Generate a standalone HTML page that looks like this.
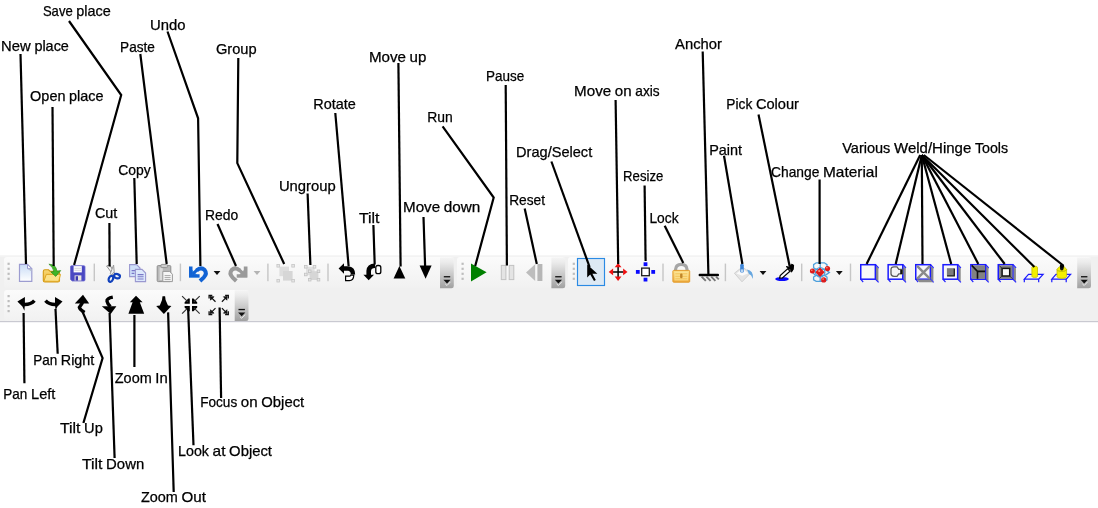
<!DOCTYPE html>
<html lang="en">
<head>
<meta charset="utf-8">
<title>Toolbar reference</title>
<style>
html,body{margin:0;padding:0;background:#fff;}
body{width:1098px;height:508px;overflow:hidden;position:relative;font-family:"Liberation Sans",sans-serif;}
svg{position:absolute;left:0;top:0;display:block;}
text{font-family:"Liberation Sans",sans-serif;font-size:14.1px;fill:#000;stroke:#000;stroke-width:0.25px;}
.ln{fill:none;stroke:#000;stroke-width:2.2;stroke-linejoin:miter;stroke-linecap:butt;}
</style>
</head>
<body>
<svg width="1098" height="508" viewBox="0 0 1098 508">
<defs>
<linearGradient id="ovf" x1="0" y1="0" x2="0" y2="1"><stop offset="0" stop-color="#f4f4f4"/><stop offset="0.150" stop-color="#ececec"/><stop offset="0.500" stop-color="#cdcdcd"/><stop offset="1" stop-color="#a0a0a0"/></linearGradient>
<linearGradient id="strip" x1="0" y1="0" x2="0" y2="1"><stop offset="0" stop-color="#fbfbfb"/><stop offset="1" stop-color="#f1f1f1"/></linearGradient>
<linearGradient id="doc" x1="0" y1="0" x2="0" y2="1"><stop offset="0" stop-color="#c9dcf7"/><stop offset="1" stop-color="#ffffff"/></linearGradient>
<linearGradient id="fold" x1="0" y1="0" x2="0" y2="1"><stop offset="0" stop-color="#f7d774"/><stop offset="1" stop-color="#f0b93a"/></linearGradient>
<linearGradient id="lockg" x1="0" y1="0" x2="0" y2="1"><stop offset="0" stop-color="#fbe08a"/><stop offset="1" stop-color="#eda93a"/></linearGradient>
<g id="grip" fill="#bdbdbd"><rect x="0" y="0" width="2.2" height="2.2"/><rect x="0" y="5" width="2.2" height="2.2"/><rect x="0" y="10" width="2.2" height="2.2"/><rect x="0" y="15" width="2.2" height="2.2"/></g>
<g id="ovfbtn"><path d="M0 0H13.8V28.5Q13.8 30.8 11.5 30.8H0Z" fill="url(#ovf)"/><rect x="3.8" y="18.6" width="6.4" height="1.3" fill="#111"/><path d="M3.4 22.2H10.6L7 26Z" fill="#111"/><path d="M5.200 26.400L7 28L10.400 24.400" fill="none" stroke="#fff" stroke-width="0.900" opacity="0.850"/></g>
</defs>

<rect x="0" y="255" width="1098" height="66.5" fill="#f0f0f0"/>
<rect x="0" y="255" width="1098" height="1.5" fill="#f6f6f6"/>
<rect x="0" y="321" width="1098" height="1.2" fill="#c9c9d1"/>
<rect x="4" y="257" width="449.8" height="31.19999999999999" rx="3" fill="url(#strip)"/>
<rect x="457" y="257" width="107.60000000000002" height="31.19999999999999" rx="3" fill="url(#strip)"/>
<rect x="568" y="257" width="523" height="31.19999999999999" rx="3" fill="url(#strip)"/>
<rect x="4" y="290" width="244.4" height="31" rx="3" fill="url(#strip)"/>
<use href="#ovfbtn" x="440" y="257.5"/>
<use href="#ovfbtn" x="551.4" y="257.5"/>
<use href="#ovfbtn" x="1077.2" y="257.5"/>
<use href="#ovfbtn" x="234.7" y="290.3"/>
<use href="#grip" x="7.5" y="262.7"/>
<use href="#grip" x="461.5" y="262.7"/>
<use href="#grip" x="572.7" y="262.7"/>
<use href="#grip" x="7.5" y="295"/>
<rect x="93.6" y="263.6" width="1.4" height="17.6" fill="#c6c6c6"/>
<rect x="179.7" y="263.6" width="1.4" height="17.6" fill="#c6c6c6"/>
<rect x="267.2" y="263.6" width="1.4" height="17.6" fill="#c6c6c6"/>
<rect x="327.3" y="263.6" width="1.4" height="17.6" fill="#c6c6c6"/>
<rect x="662.3" y="263.6" width="1.4" height="17.6" fill="#c6c6c6"/>
<rect x="724.7" y="263.6" width="1.4" height="17.6" fill="#c6c6c6"/>
<rect x="801.0" y="263.6" width="1.4" height="17.6" fill="#c6c6c6"/>
<rect x="849.8" y="263.6" width="1.4" height="17.6" fill="#c6c6c6"/>
<g id="icons-row1">
<!-- new -->
<g transform="translate(18.9 263.8)">
<path d="M0.6 0.6H8.6L12.9 4.9V17.6H0.6Z" fill="url(#doc)" stroke="#9c9cd0" stroke-width="1.2"/>
<path d="M8.6 0.6V4.9H12.9Z" fill="#f4f6fb" stroke="#9c9cd0" stroke-width="1"/>
<path d="M8.8 5.2H12.6V7.6Z" fill="#b5bfd0"/>
</g>
<!-- open -->
<g transform="translate(42.3 263.8)">
<path d="M1 7.6Q1 6 2.6 6H6.2L8 7.6H15.6Q17.2 7.6 17.2 9.2V16.6Q17.2 18.2 15.6 18.2H2.6Q1 18.2 1 16.6Z" fill="url(#fold)" stroke="#d39a16" stroke-width="1.1"/>
<path d="M1.6 17.4L4 10.6H18.2L16.4 17.6Z" fill="#fbe28a" stroke="#dca21c" stroke-width="0.9"/>
<path d="M6.6 0.4Q14 0.6 14.6 7.4L18.4 6.8L13.4 12.6L8.6 8.2L11.6 7.8Q11 3.4 6.6 0.4Z" fill="#3fb428" stroke="#2a8a1a" stroke-width="0.7"/>
</g>
<!-- save -->
<g transform="translate(70 265.2)">
<path d="M0.5 1.6Q0.5 0.5 1.6 0.5H13.8Q15 0.5 15 1.6V14.6Q15 15.8 13.8 15.8H2.2L0.5 14.2Z" fill="#4a48c2" stroke="#6e6cd0" stroke-width="0.8"/>
<rect x="3.6" y="0.9" width="8.2" height="6.3" fill="#fdfdfd"/>
<rect x="4.4" y="2.6" width="6.6" height="1" fill="#d6d6dc"/>
<rect x="4.4" y="4.6" width="6.6" height="1" fill="#d6d6dc"/>
<rect x="4.6" y="10.2" width="6.8" height="5.2" fill="#e9e6e0"/>
<rect x="5.6" y="11" width="2.4" height="4.4" fill="#3a38b0"/>
</g>
<!-- cut -->
<g transform="translate(106 264)">
<path d="M0.600 2L3.800 0.800L9.200 10.400L7.600 11.400Z" fill="#f4f4f4" stroke="#8e8e8e" stroke-width="1"/>
<path d="M7.600 1L8.200 7.800L5.600 11L4.200 9.800Z" fill="#ececec" stroke="#9a9a9a" stroke-width="1"/>
<ellipse cx="4.900" cy="14.800" rx="2.100" ry="3.100" transform="rotate(24 4.900 14.800)" fill="none" stroke="#1040bc" stroke-width="2.200"/>
<ellipse cx="11" cy="12.200" rx="3" ry="2.100" transform="rotate(16 11 12.200)" fill="none" stroke="#1040bc" stroke-width="2.200"/>
</g>
<!-- copy -->
<g transform="translate(129 264)">
<path d="M0.6 0.6H7.6L11 4V12.6H0.6Z" fill="#cfe0fa" stroke="#9a98d0" stroke-width="1.1"/>
<path d="M2.6 6.6H6.4M2.6 9.4H5.4" stroke="#7a78c8" stroke-width="1.1"/>
<path d="M6.4 5.4H13L16.6 9V17.6H6.4Z" fill="#dce8fb" stroke="#9a98d0" stroke-width="1.1"/>
<path d="M8.6 10.6H14.6M8.6 12.8H14.6M8.6 15H14.6" stroke="#7a78c8" stroke-width="1.1"/>
</g>
<!-- paste -->
<g transform="translate(156.2 264)">
<path d="M1 2.6Q1 1.6 2 1.6H13.6Q14.6 1.6 14.6 2.6V16.6Q14.6 17.6 13.6 17.6H2Q1 17.6 1 16.6Z" fill="#b9b9b9" stroke="#8e8e8e" stroke-width="1"/>
<path d="M3.4 3.4H6.6V16H3.4Z" fill="#dadada"/>
<rect x="4.8" y="0.4" width="6.4" height="3.2" rx="0.8" fill="#cfcfcf" stroke="#8e8e8e" stroke-width="0.9"/>
<path d="M6.6 7.4H13.4L16.2 10.2V17.6H6.6Z" fill="#f6f6f6" stroke="#9a9a9a" stroke-width="1"/>
<path d="M8.4 11.6H14.4M8.4 13.6H14.4M8.4 15.6H14.4" stroke="#a8a8a8" stroke-width="1"/>
</g>
<!-- undo -->
<defs><g id="undoshape">
<path d="M189 266.4V277.6H199.6Z" fill="#3d9cf2"/>
<path d="M189 266.4H192.5V274.3H199.6V277.6H189Z"/>
<path d="M192.6 274.2L197.6 269.4" fill="none" stroke-width="3" stroke="currentColor"/>
<path d="M196.6 270.4Q201 266.4 204.6 270Q207.6 273.6 203.6 277.6L200 281" fill="none" stroke-width="4" stroke-linecap="butt" stroke="currentColor"/>
</g></defs>
<use href="#undoshape" fill="#1263d4" color="#1263d4"/>
<path d="M213.6 271H220.4L217 275Z" fill="#111"/>
<!-- redo -->
<g transform="translate(436.3 0) scale(-1 1)" fill="#9a9a9a" color="#9a9a9a">
<path d="M189 266.4V277.6H199.6Z" fill="#a6a6a6"/>
<path d="M189 266.4H192.5V274.3H199.6V277.6H189Z"/>
<path d="M191.6 275.2L197.4 269.6" fill="none" stroke-width="3.4" stroke="#9a9a9a"/>
<path d="M196.6 270.4Q201 266.4 204.6 270Q207.6 273.6 203.6 277.6L200 281" fill="none" stroke-width="4" stroke="#9a9a9a"/>
</g>
<path d="M253.6 271H260.4L257 275Z" fill="#b4b4b4"/>
<!-- group -->
<g transform="translate(276.4 264)">
<rect x="3" y="2.6" width="9.6" height="9.6" fill="#dedede"/>
<rect x="6.6" y="7" width="9.6" height="9.6" fill="#d6d6d6"/>
<g fill="#e6e6e6" stroke="#c6c6c6" stroke-width="0.8"><rect x="0.5" y="0.5" width="2.6" height="2.6"/><rect x="15.4" y="0.5" width="2.6" height="2.6"/><rect x="0.5" y="15.4" width="2.6" height="2.6"/><rect x="15.4" y="15.4" width="2.6" height="2.6"/></g>
</g>
<!-- ungroup -->
<g transform="translate(304 265)">
<rect x="2" y="1.8" width="8.6" height="8.4" fill="#e0e0e0"/>
<rect x="5.6" y="6.2" width="8.8" height="8.8" fill="#d6d6d6"/>
<g fill="#e6e6e6" stroke="#c2c2c2" stroke-width="0.8"><rect x="0.5" y="0.5" width="2.6" height="2.6"/><rect x="9.2" y="0.5" width="2.6" height="2.6"/><rect x="0.5" y="8.2" width="2.6" height="2.6"/><rect x="4.4" y="5" width="2.6" height="2.6"/><rect x="13.2" y="5" width="2.6" height="2.6"/><rect x="4.4" y="13.4" width="2.6" height="2.6"/><rect x="13.2" y="13.4" width="2.6" height="2.6"/></g>
</g>
<!-- rotate -->
<path d="M338.6 268.5L344 263.2V273.8Z" fill="#000"/>
<path d="M343.6 268.5H348.6Q353 269.2 353 274.6" fill="none" stroke="#000" stroke-width="4.4"/>
<path d="M353.8 275.2Q353.6 280.6 349.4 280.6H345.6V276.2H349.8Q350.6 276.2 350.8 275.2Z" fill="#fff" stroke="#000" stroke-width="1.2"/>
<!-- tilt -->
<path d="M368.7 280.2L363.4 274.8H374Z" fill="#000"/>
<path d="M368.7 275.4V271Q369 265.8 375 265.7" fill="none" stroke="#000" stroke-width="4.6"/>
<rect x="375.8" y="265.5" width="5" height="8.2" rx="2" fill="#fff" stroke="#000" stroke-width="1.3"/>
<!-- move up / down -->
<path d="M399.4 266L405.3 278.4H393.6Z" fill="#000"/>
<path d="M419.6 265.4H431.6L425.6 278.8Z" fill="#000"/>
<!-- run pause reset -->
<path d="M471 263.4L486.6 272.2L471 281.4Z" fill="#008000"/>
<g fill="#e4e4e4" stroke="#c2c2c2" stroke-width="1"><rect x="501.3" y="265.4" width="4.6" height="14.2"/><rect x="509.2" y="265.4" width="4.6" height="14.2"/></g>
<path d="M526 272.4L535.2 264.2V281Z" fill="#bdbdbd"/>
<rect x="537.4" y="264" width="5" height="17" fill="#b6b6b6"/>
<!-- select -->
<rect x="577.500" y="258.500" width="27" height="27" fill="#dde9f4" stroke="#2a8ae4" stroke-width="1.150"/>
<path d="M587.2 264.4V277.6L590.2 274.6L594 281L595.8 280L592.4 273.8H597.4Z" fill="#000"/>
<!-- move on axis -->
<g transform="translate(618.1 271.9)">
<rect x="-2.600" y="-2.600" width="5.200" height="5.200" fill="#fafafa"/><path d="M-5.400 0H5.400M0 -5.400V5.400" stroke="#000" stroke-width="1.500"/>
<g fill="#f01010"><path d="M0 -9L3.4 -4.6H-3.4Z"/><path d="M0 9L3.4 4.6H-3.4Z"/><path d="M-9.4 0L-5 -3.4V3.4Z"/><path d="M9.4 0L5 -3.4V3.4Z"/></g>
</g>
<!-- resize -->
<g transform="translate(645.5 271.9)">
<rect x="-3.8" y="-3.8" width="7.6" height="7.6" fill="#fff" stroke="#1a1a1a" stroke-width="1.3"/>
<g fill="#0a0aff"><rect x="-1.9" y="-9.6" width="3.8" height="3.8"/><rect x="-1.9" y="5.8" width="3.8" height="3.8"/><rect x="-9.6" y="-1.9" width="3.8" height="3.8"/><rect x="5.8" y="-1.9" width="3.8" height="3.8"/></g>
</g>
<!-- lock -->
<g transform="translate(672.3 262.4)">
<path d="M3.300 9.400V7Q3.500 1.900 9 1.900Q14.500 1.900 14.700 7V9.400" fill="none" stroke="#a6a6a6" stroke-width="3.200"/>
<rect x="0.600" y="8" width="16.800" height="11.800" rx="0.800" fill="url(#lockg)" stroke="#e39c2c" stroke-width="1"/>
<rect x="2.200" y="9.600" width="13.600" height="8.400" fill="#fce598" opacity="0.750"/>
<path d="M3 11.400H15M3 13.900H15M3 16.400H15" stroke="#f0bc4c" stroke-width="0.900" opacity="0.900"/>
<rect x="7.800" y="11.200" width="2.400" height="4.600" rx="1" fill="#c08628"/>
</g>
<!-- anchor -->
<rect x="698.600" y="273.700" width="20.400" height="2.500" rx="1" fill="#000"/>
<path d="M701.600 276.600L705.800 280.800M706.400 276.600L710.600 280.800M711.200 276.600L715.400 280.800M716 276.600L718.800 279.400" stroke="#777" stroke-width="1.900"/>
<!-- paint -->
<g transform="translate(734 262.4)">
<path d="M0.4 10.8L8.4 4.6L16.6 10.6L8 19.4Z" fill="#e4e4e4" stroke="#c9c9c9" stroke-width="0.8"/>
<path d="M2.4 11L8.4 6.4L14.4 10.8L8.2 13.4Z" fill="#fafafa"/>
<path d="M13 7.2Q19.6 8 19 16.6Q17.4 12.4 14.8 11.4Z" fill="#67a7e0"/>
<rect x="6.2" y="1.6" width="3.6" height="8.4" rx="1.2" fill="#3f86d8"/>
<rect x="6.8" y="7" width="2.4" height="2.6" fill="#b8d6f4"/>
</g>
<path d="M759.6 271H766.4L763 275Z" fill="#111"/>
<!-- pick colour -->
<g transform="translate(775 263.6)">
<ellipse cx="7" cy="15.4" rx="6.8" ry="2" fill="#0a0aff"/>
<path d="M4.6 14.6L5.2 12L12.6 5.2L15 7.6L7.4 14.4Z" fill="#fff" stroke="#000" stroke-width="1.2"/>
<path d="M11.2 3L13.8 3.4L16.4 0.6L18.6 1.4L18.2 6L16.4 8.6L15.6 6.2L13 4.6Z" fill="#000" stroke="#000" stroke-width="1"/>
</g>
<!-- material -->
<g transform="translate(810 262)">
<g fill="none" stroke="#4ea0dc" stroke-width="1.300">
<path d="M3.600 2.600L6.200 0.800H14.400L17 2.600V5.800L14.400 7.400H6.200L3.600 5.800Z"/>
<path d="M3.600 15L6.200 13.400H14.400L17 15V17.800L14.400 19.400H6.200L3.600 17.800Z"/>
<path d="M10.200 0.800V19.400M5.400 7.400L2.600 10.400L5.400 13.400M15.200 7.400L19.400 10.400L15.200 13.400"/>
<circle cx="10.200" cy="10.300" r="4.700"/>
</g>
<g fill="#de1c1c"><path d="M10 6.400L13.700 10.200L10 14L6.300 10.200Z" stroke="#de1c1c" stroke-width="1.400" stroke-linejoin="round"/><circle cx="2.400" cy="9.100" r="2.500"/><circle cx="17.500" cy="6.600" r="2.600"/><circle cx="13.700" cy="17.900" r="2.600"/></g>
<g fill="#ff9a80"><circle cx="9.200" cy="9" r="1.100"/><circle cx="1.800" cy="8.300" r="0.800"/><circle cx="16.900" cy="5.800" r="0.800"/><circle cx="13.100" cy="17.100" r="0.800"/></g>
</g>
<path d="M835.9 271H842.7L839.3 275Z" fill="#111"/>
<!-- weld tools -->
<defs>
<g id="wbox">
<path d="M15.800 1.800L18.400 4.400V17.800L15.800 15.400Z" fill="#8a8a8a"/>
<path d="M0.800 15.600L3.200 18.200M15.600 0.800L18.600 4M15.600 15.600L18.600 18.600" stroke="#2424ff" stroke-width="1.200" fill="none"/>
<rect x="0.750" y="0.900" width="14.600" height="14.500" fill="#f7f7f7" stroke="#1a1aff" stroke-width="1.500"/>
</g>
<g id="wplane">
<path d="M0.800 14.200L5 9.400H19.600L15.200 14.200ZM0.800 14.200V17.200M15.200 14.200V17.200" fill="none" stroke="#1a1aff" stroke-width="1.200"/>
</g>
</defs>
<use href="#wbox" x="860" y="263.8"/>
<g transform="translate(887.4 263.8)"><use href="#wbox"/>
<path d="M3.6 5.8Q3.6 3 6.6 3H9.6L11.4 5.6H15.2V10H11.4L9.6 12.6H6.6Q3.6 12.6 3.6 9.8Z" fill="#f4f4f4" stroke="#5c5c5c" stroke-width="1.300"/><rect x="12.800" y="6" width="2.200" height="4.200" fill="#111"/></g>
<g transform="translate(915 263.8)"><use href="#wbox"/>
<path d="M1.6 15.8H15.4L18.2 18.4H4.4Z" fill="#8c8c8c"/>
<path d="M2 2L15 15M15 2L2 15" stroke="#8a8a8a" stroke-width="2.4"/></g>
<g transform="translate(942.3 263.8)"><use href="#wbox"/>
<rect x="4.600" y="4.400" width="7.400" height="7.400" fill="#7c7c7c"/><path d="M12 4.600V12H4.800" fill="none" stroke="#111" stroke-width="1.200"/></g>
<g transform="translate(970.1 263.8)"><use href="#wbox"/>
<rect x="1.6" y="1.6" width="13.4" height="13.4" fill="#828282"/><path d="M1.6 1.6L7.4 7.6V15M7.4 7.6H15" fill="none" stroke="#111" stroke-width="1.6"/></g>
<g transform="translate(997.5 263.8)"><use href="#wbox"/>
<rect x="1.6" y="1.6" width="13.4" height="13.4" fill="#828282"/><rect x="4.6" y="4.6" width="7.6" height="7.6" fill="#fafafa" stroke="#111" stroke-width="1.5"/><path d="M1.6 1.6L4.6 4.6M15 15L12.2 12.2M1.6 15L4.6 12.2" stroke="#333" stroke-width="1"/></g>
<g transform="translate(1023.5 265)"><use href="#wplane"/>
<path d="M8.4 2.4Q8.4 1.2 11.2 1.2Q14 1.2 14 2.4V11.4Q14 12.4 11.2 12.4Q8.4 12.4 8.4 11.4Z" fill="#f4f000" stroke="#c4c000" stroke-width="0.8"/></g>
<g transform="translate(1051 265)"><use href="#wplane"/>
<path d="M6 4.200L8.400 1.800H13.200L15.600 4.200V11.600Q15.600 13.400 10.800 13.400Q6 13.400 6 11.600Z" fill="#f4f000" stroke="#c4c000" stroke-width="0.800"/><path d="M6 4.6Q6 6.4 10.8 6.4Q15.6 6.4 15.6 4.6" fill="none" stroke="#b8b400" stroke-width="0.9"/><ellipse cx="10.8" cy="3.2" rx="1.8" ry="2.4" fill="#111"/></g>
</g>
<g id="icons-row2" fill="#000">
<!-- pan left -->
<defs><g id="panl">
<path d="M17.4 301.5L24.9 297V304L24.4 310.8L22.4 306.6Z"/>
<path d="M23.6 304.4Q30.6 304.8 34.4 300.6" fill="none" stroke="#000" stroke-width="3.6"/>
</g></defs>
<use href="#panl"/>
<!-- pan right -->
<use href="#panl" transform="translate(79.9 0) scale(-1 1)"/>
<!-- tilt up -->
<path d="M83 294.8L89.2 303.4H74.8Z"/>
<path d="M82.6 302.6L79.4 307.4Q79.8 309.6 84.6 312.4" fill="none" stroke="#000" stroke-width="3.4"/>
<!-- tilt down -->
<path d="M101.8 306.2H116.4L110.7 314Z"/>
<path d="M112.8 297.2Q106.4 298.4 107 301.2Q107.4 303.6 110.4 306.6" fill="none" stroke="#000" stroke-width="3.4"/>
<!-- zoom in -->
<path d="M136 295.8L142.6 302.2H139.8L144.2 313.7H128.4L132.6 302.2H129.8Z"/>
<!-- zoom out -->
<path d="M162.500 296.2H165.100L165.600 300L168 305.400L171.400 306L163.900 314L156.200 306L159.800 305.400L162 300Z"/>
<!-- look at -->
<g transform="translate(190.900 304.900)">
<path d="M-1.100 -1.100H-6.300V-2.600L-2.600 -6.300H-1.100ZM1.100 -1.100H6.300V-2.600L2.600 -6.300H1.100ZM-1.100 1.100H-6.300V2.600L-2.600 6.300H-1.100ZM1.100 1.100H6.300V2.600L2.600 6.300H1.100Z"/>
<path d="M-8.800 -8.800L-3 -3M8.800 -8.800L3 -3M-8.800 8.800L-3 3M8.800 8.800L3 3" stroke="#333" stroke-width="1.200" fill="none"/>
</g>
<!-- focus -->
<g transform="translate(218.700 304.950)" fill="none" stroke="#111" stroke-width="1.300">
<path d="M-9.600 -6.400V-9.600H-6.400M9.600 -6.400V-9.600H6.400M-9.600 6.400V9.600H-6.400M9.600 6.400V9.600H6.400"/>
<path d="M-8.600 -8.600L-3.200 -3.200M8.600 -8.600L3.200 -3.200M-8.600 8.600L-3.200 3.200M8.600 8.600L3.200 3.200" stroke-width="1.200"/>
<path d="M-8.200 -8.200H-4.800L-8.200 -4.800ZM8.200 -8.200H4.800L8.200 -4.800ZM-8.200 8.200H-4.800L-8.200 4.800ZM8.200 8.200H4.800L8.200 4.800Z" fill="#111" stroke-width="0.800"/>
</g>
</g>

<g class="ln">
<path d="M20.5 54 L26 264"/>
<path d="M69 21 L121.2 95 L74.1 265"/>
<path d="M52.5 107 L53.7 266"/>
<path d="M134.3 178 L136.7 264"/>
<path d="M140.3 54 L166.7 264"/>
<path d="M109.4 223 L109.6 266.5"/>
<path d="M167.5 31.5 L198.1 118.3 L200.4 266"/>
<path d="M238.3 58 L237.3 163.1 L284.2 264"/>
<path d="M217.5 224 L236 266"/>
<path d="M307.6 193.5 L310.4 265"/>
<path d="M373.4 225 L374.7 264.6"/>
<path d="M335.3 113 L348.6 266"/>
<path d="M398.4 63 L400.6 266.6"/>
<path d="M423.5 217 L425.1 266"/>
<path d="M442.6 126.4 L493.7 197.5 L475.2 266"/>
<path d="M505.7 85 L506.9 265.6"/>
<path d="M524.7 208.5 L536.8 264"/>
<path d="M551.4 161.5 L589.6 267"/>
<path d="M615.6 100 L618.2 264"/>
<path d="M644.6 185.4 L645.6 261"/>
<path d="M664.7 225.7 L683.3 263"/>
<path d="M702.7 51.5 L708.4 274"/>
<path d="M724 155.7 L742.4 264"/>
<path d="M758.5 114.5 L789.6 266"/>
<path d="M819.6 179.5 L819.6 264"/>
<path d="M920.2 155 L866.6 264"/>
<path d="M921.8 155 L895.7 264"/>
<path d="M921.8 155 L922.5 264"/>
<path d="M921.8 155 L951.2 264"/>
<path d="M921.8 155 L978.3 264"/>
<path d="M921.8 155 L1004.7 264"/>
<path d="M921.8 155 L1034.4 267"/>
<path d="M923.8 155 L1062 264.5"/>
<path d="M23.6 313 L24.4 383.2"/>
<path d="M55.5 309 L57.7 353.8"/>
<path d="M82.2 311 L102.6 358 L83.4 423"/>
<path d="M109.6 313 L114.6 458"/>
<path d="M134.4 315 L134.4 367"/>
<path d="M168.1 312.4 L173.7 492"/>
<path d="M188.1 308 L193.5 445.2"/>
<path d="M219.6 307.5 L221.1 398"/>
</g>
<circle cx="1062" cy="266" r="2.2" fill="#000"/>
<g>
<text y="16.0"><tspan x="42.9" textLength="29.8" lengthAdjust="spacingAndGlyphs">Save</tspan> <tspan x="76.3" textLength="34.5" lengthAdjust="spacingAndGlyphs">place</tspan></text>
<text y="51.2"><tspan x="1.1" textLength="29.6" lengthAdjust="spacingAndGlyphs">New</tspan> <tspan x="34.4" textLength="34.5" lengthAdjust="spacingAndGlyphs">place</tspan></text>
<text y="51.5"><tspan x="120.1" textLength="34.8" lengthAdjust="spacingAndGlyphs">Paste</tspan></text>
<text y="30.0"><tspan x="150.0" textLength="35.5" lengthAdjust="spacingAndGlyphs">Undo</tspan></text>
<text y="101.0"><tspan x="30.1" textLength="35.4" lengthAdjust="spacingAndGlyphs">Open</tspan> <tspan x="69.1" textLength="34.5" lengthAdjust="spacingAndGlyphs">place</tspan></text>
<text y="175.0"><tspan x="118.2" textLength="32.5" lengthAdjust="spacingAndGlyphs">Copy</tspan></text>
<text y="218.0"><tspan x="95.0" textLength="22.3" lengthAdjust="spacingAndGlyphs">Cut</tspan></text>
<text y="53.5"><tspan x="215.9" textLength="40.7" lengthAdjust="spacingAndGlyphs">Group</tspan></text>
<text y="108.6"><tspan x="313.2" textLength="42.6" lengthAdjust="spacingAndGlyphs">Rotate</tspan></text>
<text y="219.7"><tspan x="205.0" textLength="33.2" lengthAdjust="spacingAndGlyphs">Redo</tspan></text>
<text y="190.6"><tspan x="278.9" textLength="56.8" lengthAdjust="spacingAndGlyphs">Ungroup</tspan></text>
<text y="222.5"><tspan x="358.9" textLength="20.5" lengthAdjust="spacingAndGlyphs">Tilt</tspan></text>
<text y="62.0"><tspan x="368.9" textLength="37.1" lengthAdjust="spacingAndGlyphs">Move</tspan> <tspan x="409.6" textLength="16.8" lengthAdjust="spacingAndGlyphs">up</tspan></text>
<text y="81.0"><tspan x="486.1" textLength="38.2" lengthAdjust="spacingAndGlyphs">Pause</tspan></text>
<text y="121.8"><tspan x="427.2" textLength="25.5" lengthAdjust="spacingAndGlyphs">Run</tspan></text>
<text y="211.6"><tspan x="403.0" textLength="37.1" lengthAdjust="spacingAndGlyphs">Move</tspan> <tspan x="443.7" textLength="36.6" lengthAdjust="spacingAndGlyphs">down</tspan></text>
<text y="204.6"><tspan x="509.2" textLength="35.9" lengthAdjust="spacingAndGlyphs">Reset</tspan></text>
<text y="157.0"><tspan x="516.1" textLength="76.1" lengthAdjust="spacingAndGlyphs">Drag/Select</tspan></text>
<text y="96.2"><tspan x="574.1" textLength="37.1" lengthAdjust="spacingAndGlyphs">Move</tspan> <tspan x="614.8" textLength="16.8" lengthAdjust="spacingAndGlyphs">on</tspan> <tspan x="635.3" textLength="24.4" lengthAdjust="spacingAndGlyphs">axis</tspan></text>
<text y="49.0"><tspan x="675.1" textLength="46.9" lengthAdjust="spacingAndGlyphs">Anchor</tspan></text>
<text y="180.7"><tspan x="623.1" textLength="40.2" lengthAdjust="spacingAndGlyphs">Resize</tspan></text>
<text y="155.0"><tspan x="709.2" textLength="32.9" lengthAdjust="spacingAndGlyphs">Paint</tspan></text>
<text y="222.5"><tspan x="649.4" textLength="29.2" lengthAdjust="spacingAndGlyphs">Lock</tspan></text>
<text y="108.7"><tspan x="726.3" textLength="26.0" lengthAdjust="spacingAndGlyphs">Pick</tspan> <tspan x="755.9" textLength="43.1" lengthAdjust="spacingAndGlyphs">Colour</tspan></text>
<text y="176.6"><tspan x="771.0" textLength="48.4" lengthAdjust="spacingAndGlyphs">Change</tspan> <tspan x="823.0" textLength="54.9" lengthAdjust="spacingAndGlyphs">Material</tspan></text>
<text y="152.7"><tspan x="842.2" textLength="48.2" lengthAdjust="spacingAndGlyphs">Various</tspan> <tspan x="894.0" textLength="77.3" lengthAdjust="spacingAndGlyphs">Weld/Hinge</tspan> <tspan x="974.9" textLength="33.2" lengthAdjust="spacingAndGlyphs">Tools</tspan></text>
<text y="398.7"><tspan x="3.3" textLength="24.0" lengthAdjust="spacingAndGlyphs">Pan</tspan> <tspan x="31.0" textLength="24.4" lengthAdjust="spacingAndGlyphs">Left</tspan></text>
<text y="364.7"><tspan x="33.2" textLength="24.0" lengthAdjust="spacingAndGlyphs">Pan</tspan> <tspan x="60.8" textLength="33.5" lengthAdjust="spacingAndGlyphs">Right</tspan></text>
<text y="432.7"><tspan x="60.0" textLength="20.5" lengthAdjust="spacingAndGlyphs">Tilt</tspan> <tspan x="84.1" textLength="18.7" lengthAdjust="spacingAndGlyphs">Up</tspan></text>
<text y="468.7"><tspan x="82.0" textLength="20.5" lengthAdjust="spacingAndGlyphs">Tilt</tspan> <tspan x="106.1" textLength="38.1" lengthAdjust="spacingAndGlyphs">Down</tspan></text>
<text y="382.8"><tspan x="114.8" textLength="36.9" lengthAdjust="spacingAndGlyphs">Zoom</tspan> <tspan x="155.3" textLength="12.4" lengthAdjust="spacingAndGlyphs">In</tspan></text>
<text y="501.6"><tspan x="140.9" textLength="36.9" lengthAdjust="spacingAndGlyphs">Zoom</tspan> <tspan x="181.5" textLength="24.4" lengthAdjust="spacingAndGlyphs">Out</tspan></text>
<text y="456.0"><tspan x="178.1" textLength="30.9" lengthAdjust="spacingAndGlyphs">Look</tspan> <tspan x="212.6" textLength="12.9" lengthAdjust="spacingAndGlyphs">at</tspan> <tspan x="229.1" textLength="42.9" lengthAdjust="spacingAndGlyphs">Object</tspan></text>
<text y="406.7"><tspan x="200.2" textLength="37.0" lengthAdjust="spacingAndGlyphs">Focus</tspan> <tspan x="240.8" textLength="16.8" lengthAdjust="spacingAndGlyphs">on</tspan> <tspan x="261.3" textLength="42.9" lengthAdjust="spacingAndGlyphs">Object</tspan></text>
</g>
</svg>
</body>
</html>
